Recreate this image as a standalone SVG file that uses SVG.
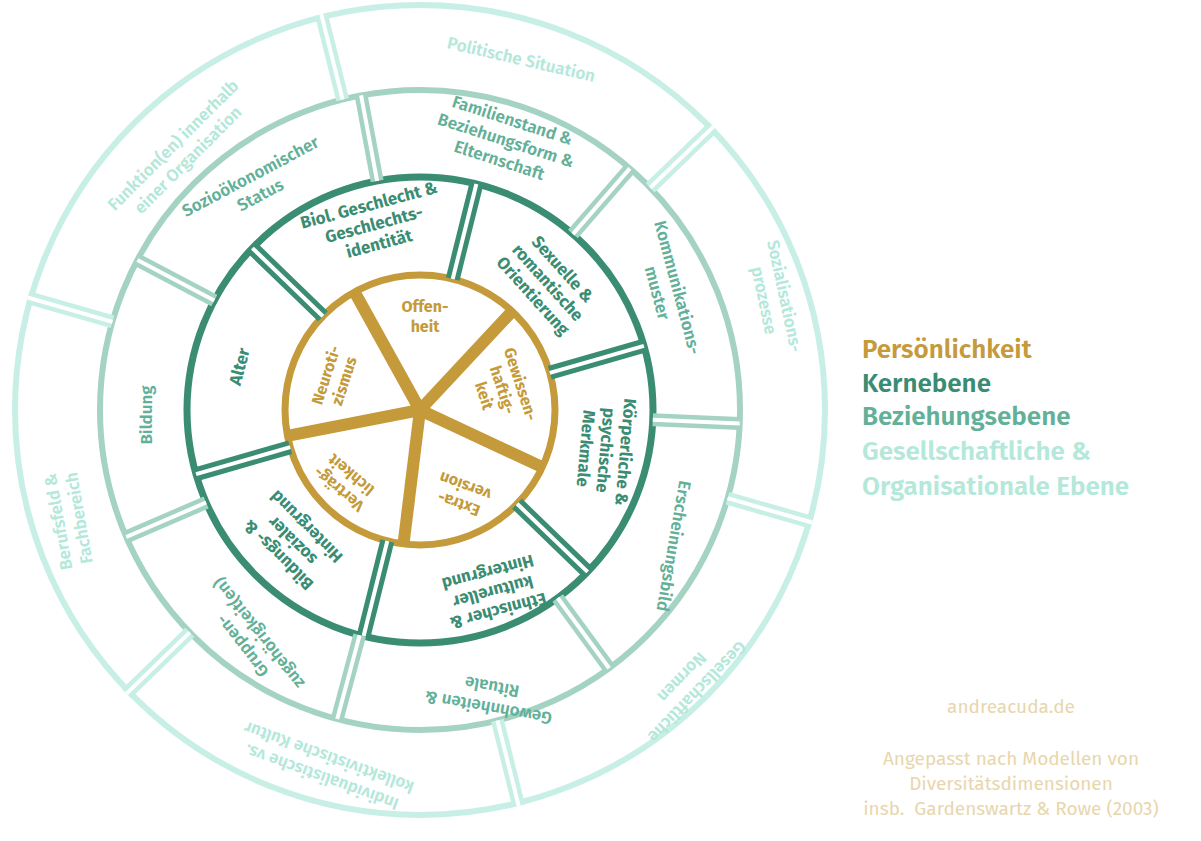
<svg xmlns="http://www.w3.org/2000/svg" width="1201" height="841" viewBox="0 0 1201 841">
<style>
text{font-family:"Fira Sans","Noto Sans","Open Sans",sans-serif;text-anchor:middle}
.p{fill:#c49a3a;font-weight:bold;font-size:16px}
.k{fill:#3a8c72;font-weight:bold;font-size:17px}
.b{fill:#63b098;font-weight:600;font-size:17px}
.o{fill:#b3e8da;font-weight:600;font-size:17px}
.ring{fill:none}
.dk{stroke:#3a8c72;stroke-width:14}
.db{stroke:#a5d3c3;stroke-width:13}
.do{stroke:#c8efe5;stroke-width:13}
.w{stroke:#fff;stroke-width:4}
</style>
<rect width="1201" height="841" fill="#fff"/>
<g id="rings">
<circle class="ring" cx="420" cy="410" r="405" stroke="#c8efe5" stroke-width="6"/>
<circle class="ring" cx="420" cy="410" r="320" stroke="#a5d3c3" stroke-width="6"/>
<circle class="ring" cx="420" cy="410" r="233" stroke="#3a8c72" stroke-width="7"/>
<circle class="ring" cx="420" cy="410" r="135" stroke="#c49a3a" stroke-width="7" fill="#fff"/>
</g>
<g id="connectors" stroke-linecap="butt">
<g class="do">
<line x1="342.6" y1="99.6" x2="321.3" y2="14.2"/><line x1="650.2" y1="187.7" x2="713.5" y2="126.6"/><line x1="727.6" y1="498.2" x2="812.2" y2="522.5"/><line x1="497.4" y1="720.4" x2="518.7" y2="805.9"/><line x1="189.8" y1="632.4" x2="126.5" y2="693.6"/><line x1="112.5" y1="321.8" x2="27.8" y2="297.5"/>
</g>
<g class="w">
<line x1="342.6" y1="99.6" x2="321.3" y2="14.2"/><line x1="650.2" y1="187.7" x2="713.5" y2="126.6"/><line x1="727.6" y1="498.2" x2="812.2" y2="522.5"/><line x1="497.4" y1="720.4" x2="518.7" y2="805.9"/><line x1="189.8" y1="632.4" x2="126.5" y2="693.6"/><line x1="112.5" y1="321.8" x2="27.8" y2="297.5"/>
</g>
<g class="db">
<line x1="214.3" y1="300.6" x2="137.4" y2="259.9"/><line x1="377.1" y1="181" x2="361.1" y2="95.4"/><line x1="572.9" y1="234.1" x2="629.9" y2="168.4"/><line x1="652.8" y1="419.8" x2="739.7" y2="423.4"/><line x1="557.7" y1="598" x2="609.1" y2="668.2"/><line x1="359.7" y1="635.1" x2="337.2" y2="719.1"/><line x1="206.1" y1="502.5" x2="126.2" y2="537"/>
</g>
<g class="w">
<line x1="214.3" y1="300.6" x2="137.4" y2="259.9"/><line x1="377.1" y1="181" x2="361.1" y2="95.4"/><line x1="572.9" y1="234.1" x2="629.9" y2="168.4"/><line x1="652.8" y1="419.8" x2="739.7" y2="423.4"/><line x1="557.7" y1="598" x2="609.1" y2="668.2"/><line x1="359.7" y1="635.1" x2="337.2" y2="719.1"/><line x1="206.1" y1="502.5" x2="126.2" y2="537"/>
</g>
<g class="dk">
<line x1="322.9" y1="316.2" x2="252.4" y2="248.1"/><line x1="452.7" y1="279" x2="476.4" y2="184"/><line x1="549.8" y1="372.8" x2="643.9" y2="345.8"/><line x1="517.1" y1="503.8" x2="587.6" y2="571.9"/><line x1="387.3" y1="541" x2="363.6" y2="636"/><line x1="290.2" y1="447.2" x2="196.1" y2="474.2"/>
</g>
<g class="w">
<line x1="322.9" y1="316.2" x2="252.4" y2="248.1"/><line x1="452.7" y1="279" x2="476.4" y2="184"/><line x1="549.8" y1="372.8" x2="643.9" y2="345.8"/><line x1="517.1" y1="503.8" x2="587.6" y2="571.9"/><line x1="387.3" y1="541" x2="363.6" y2="636"/><line x1="290.2" y1="447.2" x2="196.1" y2="474.2"/>
</g>
<g stroke="#c49a3a" stroke-width="12">
<line x1="420" y1="410" x2="354.5" y2="291.9"/><line x1="420" y1="410" x2="512.1" y2="311.3"/><line x1="420" y1="410" x2="542.3" y2="467.1"/><line x1="420" y1="410" x2="403.5" y2="544.1"/><line x1="420" y1="410" x2="287.4" y2="435.8"/>
</g>
</g>
<g id="personality">
<text class="p" transform="translate(425,312)"><tspan x="0" y="0">Offen-</tspan><tspan x="0" y="20">heit</tspan></text>
<text class="p" transform="translate(502,390) rotate(72)"><tspan x="0" y="-14">Gewissen-</tspan><tspan x="0" y="5">haftig-</tspan><tspan x="0" y="24">keit</tspan></text>
<text class="p" transform="translate(462,495) rotate(200)"><tspan x="0" y="-4">Extra-</tspan><tspan x="0" y="15">version</tspan></text>
<text class="p" transform="translate(345,482) rotate(220)"><tspan x="0" y="-4">Verträg-</tspan><tspan x="0" y="15">lichkeit</tspan></text>
<text class="p" transform="translate(335,378) rotate(-72)"><tspan x="0" y="-4">Neuroti-</tspan><tspan x="0" y="15">zismus</tspan></text>
</g>
<g id="kern">
<text class="k" transform="translate(375,228) rotate(-15)"><tspan x="0" y="-18">Biol. Geschlecht &amp;</tspan><tspan x="0" y="2">Geschlechts-</tspan><tspan x="0" y="22">identität</tspan></text>
<text class="k" transform="translate(545,285) rotate(48)"><tspan x="0" y="-18">Sexuelle &amp;</tspan><tspan x="0" y="2">romantische</tspan><tspan x="0" y="22">Orientierung</tspan></text>
<text class="k" transform="translate(602,450) rotate(95)"><tspan x="0" y="-18">Körperliche &amp;</tspan><tspan x="0" y="2">psychische</tspan><tspan x="0" y="22">Merkmale</tspan></text>
<text class="k" transform="translate(492,588) rotate(165)"><tspan x="0" y="-18">Ethnischer &amp;</tspan><tspan x="0" y="2">kultureller</tspan><tspan x="0" y="22">Hintergrund</tspan></text>
<text class="k" transform="translate(295,538) rotate(225)"><tspan x="0" y="-18">Bildungs- &amp;</tspan><tspan x="0" y="2">sozialer</tspan><tspan x="0" y="22">Hintergrund</tspan></text>
<text class="k" transform="translate(245,368) rotate(-75)">Alter</text>
</g>
<g id="beziehung">
<text class="b" transform="translate(255,185) rotate(-28)"><tspan x="0" y="-4">Sozioökonomischer</tspan><tspan x="0" y="17">Status</tspan></text>
<text class="b" transform="translate(505,143) rotate(18)"><tspan x="0" y="-18">Familienstand &amp;</tspan><tspan x="0" y="3">Beziehungsform &amp;</tspan><tspan x="0" y="24">Elternschaft</tspan></text>
<text class="b" transform="translate(668,290) rotate(75)"><tspan x="0" y="-4">Kommunikations-</tspan><tspan x="0" y="17">muster</tspan></text>
<text class="b" transform="translate(668,545) rotate(100)">Erscheinungsbild</text>
<text class="b" transform="translate(490,698) rotate(190)"><tspan x="0" y="-4">Gewohnheiten &amp;</tspan><tspan x="0" y="17">Rituale</tspan></text>
<text class="b" transform="translate(250,640) rotate(232)"><tspan x="0" y="-4">Gruppen-</tspan><tspan x="0" y="17">zugehörigkeit(en)</tspan></text>
<text class="b" transform="translate(152,415) rotate(-90)">Bildung</text>
</g>
<g id="gesellschaft">
<text class="o" transform="translate(520,65) rotate(13)">Politische Situation</text>
<text class="o" transform="translate(775,298) rotate(78)"><tspan x="0" y="-4">Sozialisations-</tspan><tspan x="0" y="17">prozesse</tspan></text>
<text class="o" transform="translate(690,685) rotate(134)"><tspan x="0" y="-4">Gesellschaftliche</tspan><tspan x="0" y="17">Normen</tspan></text>
<text class="o" transform="translate(325,768) rotate(200)"><tspan x="0" y="-4">Individualistische vs.</tspan><tspan x="0" y="17">kollektivistische Kultur</tspan></text>
<text class="o" transform="translate(68,520) rotate(-100)"><tspan x="0" y="-4">Berufsfeld &amp;</tspan><tspan x="0" y="17">Fachbereich</tspan></text>
<text class="o" transform="translate(180,152) rotate(-45)"><tspan x="0" y="-4">Funktion(en) innerhalb</tspan><tspan x="0" y="17">einer Organisation</tspan></text>
</g>
<g id="legend" style="font-size:26px;font-weight:600">
<text x="862" y="358" fill="#c49a3a" style="text-anchor:start">Persönlichkeit</text>
<text x="862" y="392" fill="#3a8c72" style="text-anchor:start">Kernebene</text>
<text x="862" y="425" fill="#63b098" style="text-anchor:start">Beziehungsebene</text>
<text x="862" y="460" fill="#b3e8da" style="text-anchor:start">Gesellschaftliche &amp;</text>
<text x="862" y="495" fill="#b3e8da" style="text-anchor:start">Organisationale Ebene</text>
</g>
<g id="credits" fill="#e8d6ad" style="font-size:19px">
<text x="1011" y="713">andreacuda.de</text>
<text x="1011" y="765">Angepasst nach Modellen von</text>
<text x="1011" y="790">Diversitätsdimensionen</text>
<text x="1011" y="815" xml:space="preserve">insb.  Gardenswartz &amp; Rowe (2003)</text>
</g>
</svg>
